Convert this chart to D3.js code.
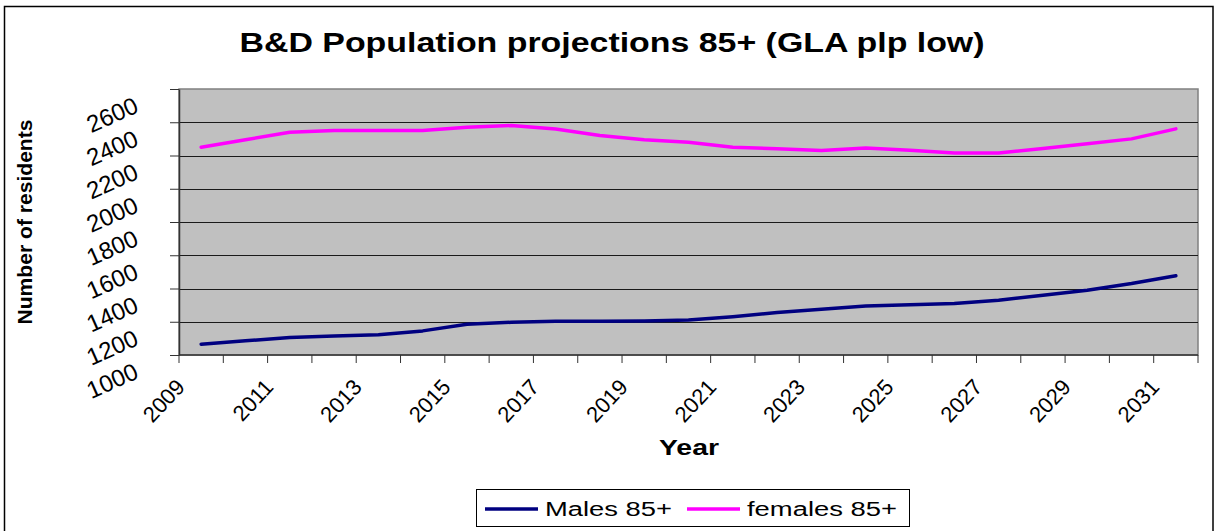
<!DOCTYPE html>
<html>
<head>
<meta charset="utf-8">
<script src="https://cdn.jsdelivr.net/npm/d3@7"></script>
<style>
  html, body { margin: 0; padding: 0; background: #fff; }
  svg { display: block; font-family: "Liberation Sans", Arial, sans-serif; }
</style>
</head>
<body>
<svg id="chart" width="1220" height="531"></svg>
<script>
// Barking & Dagenham 85+ population projections (GLA plp low)
const years = ["2009","2010","2011","2012","2013","2014","2015","2016","2017","2018","2019","2020",
               "2021","2022","2023","2024","2025","2026","2027","2028","2029","2030","2031"];
const males = [1065,1085,1105,1115,1122,1145,1185,1197,1203,1203,1205,1210,
               1230,1255,1275,1295,1303,1310,1330,1360,1390,1430,1477];
const females = [2250,2295,2340,2350,2350,2350,2370,2380,2360,2320,2295,2280,
                 2250,2240,2230,2245,2232,2215,2215,2242,2270,2300,2360];
const yTicks = [1000,1200,1400,1600,1800,2000,2200,2400,2600];
const xLabels = ["2009","2011","2013","2015","2017","2019","2021","2023","2025","2027","2029","2031"];
const seriesNames = ["Males 85+", "females 85+"];
const seriesColors = ["#000080", "#FF00FF"];

const svg = d3.select("#chart");
const plot = { left: 179, right: 1198, top: 89, bottom: 355 };

const x = d3.scaleBand().domain(years).range([plot.left, plot.right]);
const y = d3.scaleLinear().domain([1000, 2600]).range([plot.bottom, plot.top]);

// outer chart frame
svg.append("rect")
  .attr("x", 4.5).attr("y", 6.5).attr("width", 1208.5).attr("height", 540)
  .attr("fill", "#fff").attr("stroke", "#000").attr("stroke-width", 1.5);

// plot background
svg.append("rect")
  .attr("x", plot.left).attr("y", plot.top)
  .attr("width", plot.right - plot.left).attr("height", plot.bottom - plot.top)
  .attr("fill", "#C0C0C0").attr("stroke", "#808080").attr("stroke-width", 1.5);

// horizontal gridlines
svg.append("g").selectAll("line")
  .data(yTicks.filter(d => d > 1000 && d < 2600))
  .join("line")
  .attr("x1", plot.left).attr("x2", plot.right)
  .attr("y1", d => Math.round(y(d)) + 0.5).attr("y2", d => Math.round(y(d)) + 0.5)
  .attr("stroke", "#1a1a1a").attr("stroke-width", 1);

// y axis
const yAxis = svg.append("g")
  .attr("transform", `translate(${plot.left},0)`)
  .call(d3.axisLeft(y).tickValues(yTicks).tickSize(9).tickSizeOuter(0).tickFormat(d3.format("d")));
yAxis.select(".domain").attr("stroke", "#333").attr("stroke-width", 1.5);
yAxis.selectAll(".tick line").attr("stroke", "#333");
yAxis.selectAll(".tick text")
  .attr("x", null).attr("dy", null)
  .attr("text-anchor", "end")
  .attr("font-size", 24)
  .attr("fill", "#000")
  .attr("transform", "translate(-39,22) rotate(-24)");

// x axis baseline and category boundary ticks
svg.append("line")
  .attr("x1", plot.left).attr("x2", plot.right)
  .attr("y1", plot.bottom).attr("y2", plot.bottom)
  .attr("stroke", "#333").attr("stroke-width", 1.5);
const bounds = years.map(d => x(d)).concat([x.range()[1]]);
svg.append("g").selectAll("line")
  .data(bounds)
  .join("line")
  .attr("x1", d => d).attr("x2", d => d)
  .attr("y1", plot.bottom).attr("y2", plot.bottom + 8)
  .attr("stroke", "#333");

svg.append("g").selectAll("text")
  .data(xLabels)
  .join("text")
  .attr("text-anchor", "end")
  .attr("font-size", 22)
  .attr("transform", d => `translate(${x(d) + 7},388) rotate(-47)`)
  .text(d => d);

// series lines
const line = d3.line()
  .x((d, i) => x(years[i]) + x.bandwidth() / 2)
  .y(d => y(d));
[males, females].forEach((vals, k) => {
  svg.append("path")
    .datum(vals)
    .attr("fill", "none")
    .attr("stroke", seriesColors[k])
    .attr("stroke-width", 3.5)
    .attr("stroke-linejoin", "round")
    .attr("stroke-linecap", "round")
    .attr("d", line);
});

// titles
svg.append("text")
  .attr("x", 612).attr("y", 52)
  .attr("text-anchor", "middle")
  .attr("font-size", 28).attr("font-weight", "bold")
  .attr("textLength", 745).attr("lengthAdjust", "spacingAndGlyphs")
  .text("B&D Population projections 85+ (GLA plp low)");

svg.append("text")
  .attr("x", 689).attr("y", 455)
  .attr("text-anchor", "middle")
  .attr("font-size", 22).attr("font-weight", "bold")
  .attr("textLength", 60).attr("lengthAdjust", "spacingAndGlyphs")
  .text("Year");

svg.append("text")
  .attr("transform", "translate(32,222) rotate(-90)")
  .attr("text-anchor", "middle")
  .attr("font-size", 21).attr("font-weight", "bold")
  .attr("textLength", 205).attr("lengthAdjust", "spacingAndGlyphs")
  .text("Number of residents");

// legend
const legend = svg.append("g");
legend.append("rect")
  .attr("x", 476.5).attr("y", 489.5).attr("width", 433).attr("height", 37)
  .attr("fill", "#fff").attr("stroke", "#000").attr("stroke-width", 1);
const legendItems = [
  { name: seriesNames[0], color: seriesColors[0], lx: 485, tx: 545, tw: 127 },
  { name: seriesNames[1], color: seriesColors[1], lx: 687, tx: 747, tw: 150 }
];
legendItems.forEach(it => {
  legend.append("line")
    .attr("x1", it.lx).attr("x2", it.lx + 53)
    .attr("y1", 509).attr("y2", 509)
    .attr("stroke", it.color).attr("stroke-width", 3.5);
  legend.append("text")
    .attr("x", it.tx).attr("y", 516)
    .attr("font-size", 20)
    .attr("textLength", it.tw).attr("lengthAdjust", "spacingAndGlyphs")
    .text(it.name);
});
</script>
</body>
</html>
